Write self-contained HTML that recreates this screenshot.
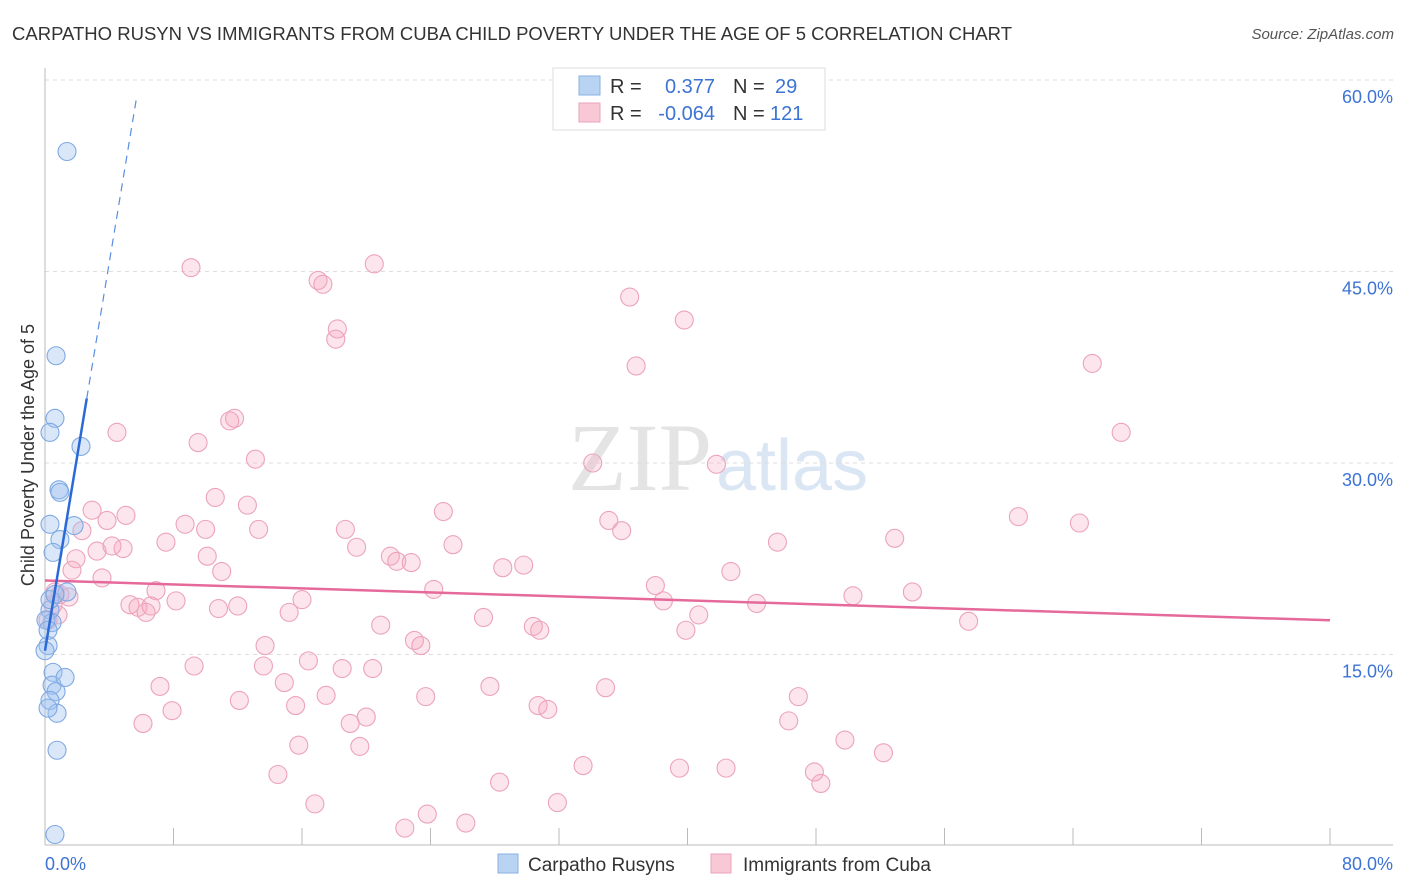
<!DOCTYPE html>
<html><head><meta charset="utf-8"><style>
body{margin:0;background:#fff;font-family:"Liberation Sans",sans-serif;}
svg{display:block}
</style></head><body>
<svg id="chart" width="1406" height="892">
<text x="12" y="40" font-size="18.5" fill="#333" textLength="1000">CARPATHO RUSYN VS IMMIGRANTS FROM CUBA CHILD POVERTY UNDER THE AGE OF 5 CORRELATION CHART</text>
<text x="1394" y="39" font-size="15" fill="#555" font-style="italic" text-anchor="end">Source: ZipAtlas.com</text>
<text x="712" y="490" font-size="96" fill="#e4e4e4" text-anchor="end" font-family="Liberation Serif,serif">ZIP</text>
<text x="716" y="490" font-size="72" fill="#dbe6f4">atlas</text>
<text transform="translate(34,455) rotate(-90)" font-size="18" fill="#333" text-anchor="middle">Child Poverty Under the Age of 5</text>
<g id="grid"></g><g id="ticks"></g><g id="pts"></g><g id="lines"></g>
<g>
<rect x="553" y="68" width="272" height="62" fill="#fff" stroke="#ddd"/>
<rect x="579" y="76" width="21" height="19" fill="#b9d3f3" stroke="#8bb1e6"/>
<rect x="579" y="103" width="21" height="19" fill="#f8c8d6" stroke="#eba3bb"/>
<text x="610" y="93" font-size="20" fill="#333">R =</text>
<text x="715" y="93" font-size="20" fill="#3d73d4" text-anchor="end">0.377</text>
<text x="733" y="93" font-size="20" fill="#333">N =</text>
<text x="775" y="93" font-size="20" fill="#3d73d4">29</text>
<text x="610" y="120" font-size="20" fill="#333">R =</text>
<text x="715" y="120" font-size="20" fill="#3d73d4" text-anchor="end">-0.064</text>
<text x="733" y="120" font-size="20" fill="#333">N =</text>
<text x="770" y="120" font-size="20" fill="#3d73d4">121</text>
</g>
<g>
<rect x="498" y="854" width="20" height="19" fill="#b9d3f3" stroke="#8bb1e6"/>
<text x="528" y="871" font-size="19" fill="#333">Carpatho Rusyns</text>
<rect x="711" y="854" width="20" height="19" fill="#f8c8d6" stroke="#eba3bb"/>
<text x="743" y="871" font-size="19" fill="#333">Immigrants from Cuba</text>
</g>
<text x="45" y="870" font-size="18" fill="#3d73d4">0.0%</text>
<text x="1393" y="870" font-size="18" fill="#3d73d4" text-anchor="end">80.0%</text>
</svg>
<script>
const yTicks=[15,30,45,60];
const yTickLabels=["15.0%","30.0%","45.0%","60.0%"];
const xTicks=[0,8,16,24,32,40,48,56,64,72,80];
const blueX=[1.37,0.69,0.62,0.31,2.24,0.87,0.93,0.31,1.81,0.93,0.5,1.37,0.31,0.44,0.19,0.0,0.5,0.44,0.69,0.31,0.75,1.25,0.19,0.75,0.62,0.06,0.31,0.19,0.62];
const blueY=[54.4,38.4,33.5,32.4,31.3,27.9,27.7,25.2,25.1,24.0,23.0,19.9,18.5,17.5,15.7,15.3,13.6,12.6,12.1,11.4,10.4,13.2,10.8,7.5,0.9,17.7,19.3,16.9,19.7];
const pinkX=[9.09,17.0,17.3,20.5,36.4,39.8,18.2,18.1,36.8,65.2,11.8,11.5,4.48,67.0,9.53,13.1,34.1,41.8,10.6,12.6,2.93,5.04,3.86,24.8,35.1,60.6,64.4,8.72,2.30,10.0,13.3,18.7,35.9,7.53,45.6,52.9,3.24,4.86,4.17,19.4,25.4,1.93,10.1,21.5,21.9,22.8,28.5,29.8,1.68,11.0,42.7,3.55,24.2,38.0,6.91,0.62,0.93,1.49,50.3,54.0,38.5,16.0,8.16,5.29,5.79,6.60,6.29,12.0,10.8,15.2,44.3,40.7,27.3,30.4,30.8,20.9,57.5,0.5,0.81,0.19,23.0,23.4,39.9,13.7,9.28,13.6,16.4,18.5,20.4,14.9,7.16,27.7,34.9,17.5,23.7,46.9,12.1,15.6,7.91,30.7,31.3,20.0,19.0,6.10,46.3,49.8,15.8,19.6,52.2,14.5,33.5,39.5,42.4,47.9,48.3,28.3,31.9,16.8,23.8,22.4,26.2];
const pinkY=[45.3,44.3,44.0,45.6,43.0,41.2,40.5,39.7,37.6,37.8,33.5,33.3,32.4,32.4,31.6,30.3,30.0,29.9,27.3,26.7,26.3,25.9,25.5,26.2,25.5,25.8,25.3,25.2,24.7,24.8,24.8,24.8,24.7,23.8,23.8,24.1,23.1,23.3,23.5,23.4,23.6,22.5,22.7,22.7,22.3,22.2,21.8,22.0,21.6,21.5,21.5,21.0,20.1,20.4,20.0,19.9,19.7,19.5,19.6,19.9,19.2,19.3,19.2,18.9,18.7,18.8,18.3,18.8,18.6,18.3,19.0,18.1,17.9,17.2,16.9,17.3,17.6,18.9,18.1,17.7,16.1,15.7,16.9,15.7,14.1,14.1,14.5,13.9,13.9,12.8,12.5,12.5,12.4,11.8,11.7,11.7,11.4,11.0,10.6,11.0,10.7,10.1,9.6,9.6,9.8,8.3,7.9,7.8,7.3,5.6,6.3,6.1,6.1,5.8,4.9,5.0,3.4,3.3,2.5,1.4,1.8];
const blueTrend=[15.3,7.6];
const pinkTrend=[20.8,-0.039];

const NS="http://www.w3.org/2000/svg";
const xs=v=>45+v/80*1285;
const ys=v=>846-v/15*191.5;
function mk(tag,attrs,parent){const e=document.createElementNS(NS,tag);for(const k in attrs)e.setAttribute(k,attrs[k]);document.getElementById(parent).appendChild(e);return e;}
yTicks.forEach((t,i)=>{
  const g=mk('line',{x1:45,x2:1393,y1:ys(t),y2:ys(t),stroke:'#ddd','stroke-dasharray':'4,4'},'grid');
  
  
  const l=mk('text',{x:1393,y:ys(t)+23,'font-size':18,fill:'#3d73d4','text-anchor':'end'},'grid');
  l.textContent=yTickLabels[i];
  
  
});
mk('line',{x1:45,x2:45,y1:68,y2:845,stroke:'#bbb'},'ticks');
mk('line',{x1:45,x2:1393,y1:845,y2:845,stroke:'#bbb'},'ticks');
xTicks.forEach(t=>{
  const k=mk('line',{x1:xs(t),x2:xs(t),y1:828,y2:845,stroke:'#bbb'},'ticks');
  
  
});
pinkX.forEach((x,i)=>{
  const c=mk('circle',{cx:xs(x),cy:ys(pinkY[i]),r:9,fill:'rgba(244,170,193,0.3)',stroke:'#eca3bb','stroke-width':1.1},'pts');
  
  
});
blueX.forEach((x,i)=>{
  const c=mk('circle',{cx:xs(x),cy:ys(blueY[i]),r:9,fill:'rgba(160,195,240,0.4)',stroke:'#7fa9e3','stroke-width':1.1},'pts');
  
  
});
const pt=mk('line',{x1:xs(0),y1:ys(pinkTrend[0]),x2:xs(80),y2:ys(pinkTrend[0]+80*pinkTrend[1]),stroke:'#e5699a','stroke-width':2.5},'lines');


const bt=mk('line',{x1:xs(0),y1:ys(blueTrend[0]),x2:xs(2.6),y2:ys(blueTrend[0]+2.6*blueTrend[1]),stroke:'#2b6ad6','stroke-width':2.5},'lines');


const bd=mk('line',{x1:xs(2.6),y1:ys(blueTrend[0]+2.6*blueTrend[1]),x2:xs(5.67),y2:ys(blueTrend[0]+5.67*blueTrend[1]),stroke:'#5b8de0','stroke-width':1.2,'stroke-dasharray':'8,6'},'lines');


</script>
</body></html>
